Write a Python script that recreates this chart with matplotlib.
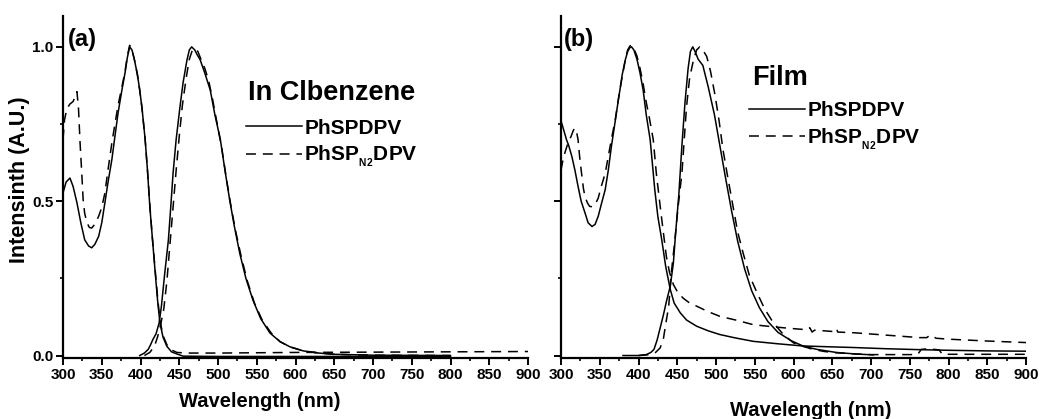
import matplotlib
matplotlib.use('Agg')
import matplotlib.pyplot as plt
from matplotlib.ticker import MultipleLocator, FormatStrFormatter

plt.rcParams['font.family'] = ['Liberation Sans', 'DejaVu Sans']
plt.rcParams['font.weight'] = 'bold'
plt.rcParams['mathtext.fontset'] = 'custom'
plt.rcParams['mathtext.bf'] = 'Liberation Sans:bold'
plt.rcParams['mathtext.rm'] = 'Liberation Sans:bold'

# ---------------- (a) In Clbenzene ----------------
a_abs1_x = [300, 304, 309, 313, 318, 323, 328, 333, 337, 341, 346, 350, 354, 358, 363, 367, 371, 376,
            380, 383, 386, 389, 392, 396, 399, 402, 406, 409, 412, 415, 419, 422, 425, 429, 434, 440,
            447, 455, 500, 600, 700, 800]
a_abs1_y = [0.527, 0.562, 0.575, 0.548, 0.495, 0.43, 0.375, 0.355, 0.349, 0.36, 0.386, 0.43, 0.494,
            0.56, 0.634, 0.71, 0.785, 0.86, 0.915, 0.965, 1.0, 0.99, 0.96, 0.91, 0.86, 0.80, 0.70,
            0.60, 0.483, 0.39, 0.268, 0.18, 0.107, 0.06, 0.03, 0.012, 0.005, -0.002, -0.003,
            -0.003, -0.003, -0.003]

a_abs2_x = [300, 302, 305, 309, 313, 316, 318, 320, 322, 324, 326, 328, 331, 334, 337, 341, 346, 350,
            354, 358, 363, 367, 371, 376, 380, 383, 386, 389, 392, 396, 399, 402, 406, 409, 412, 415,
            419, 422, 425, 429, 434, 440, 447, 460, 500, 600, 700, 800, 900]
a_abs2_y = [0.70, 0.764, 0.80, 0.815, 0.823, 0.84, 0.855, 0.80, 0.69, 0.60, 0.505, 0.46, 0.43, 0.415,
            0.413, 0.425, 0.451, 0.48, 0.526, 0.60, 0.688, 0.75, 0.81, 0.87, 0.92, 0.97, 1.005, 0.99,
            0.96, 0.91, 0.86, 0.80, 0.70, 0.60, 0.49, 0.39, 0.275, 0.19, 0.115, 0.065, 0.035, 0.018,
            0.01, 0.008, 0.008, 0.01, 0.011, 0.012, 0.013]

a_pl1_x = [399, 405, 410, 413, 416, 420, 424, 427, 431, 436, 439, 442, 446, 451, 455, 460, 463, 466,
           470, 473, 477, 483, 490, 496, 503, 509, 515, 521, 528, 536, 545, 555, 567, 580, 593, 610,
           630, 650, 700, 800]
a_pl1_y = [0.0, 0.008, 0.02, 0.035, 0.052, 0.07, 0.105, 0.16, 0.26, 0.375, 0.48, 0.59, 0.70, 0.807,
           0.885, 0.958, 0.99, 1.0, 0.99, 0.975, 0.958, 0.915, 0.86, 0.78, 0.70, 0.60, 0.505, 0.42,
           0.332, 0.25, 0.18, 0.12, 0.073, 0.045, 0.028, 0.015, 0.008, 0.004, 0.001, 0.0]

a_pl2_x = [405, 412, 418, 422, 426, 430, 434, 438, 442, 446, 450, 454, 459, 463, 467, 470, 474, 478,
           483, 488, 493, 499, 505, 511, 517, 523, 530, 538, 547, 557, 568, 580, 593, 610, 630, 650,
           700, 800]
a_pl2_y = [0.0, 0.01, 0.03, 0.06, 0.10, 0.15, 0.24, 0.36, 0.48, 0.60, 0.71, 0.81, 0.90, 0.96, 0.99,
           0.995, 0.985, 0.96, 0.93, 0.89, 0.83, 0.75, 0.67, 0.57, 0.48, 0.40, 0.32, 0.24, 0.17,
           0.115, 0.075, 0.045, 0.028, 0.015, 0.008, 0.004, 0.001, 0.0]

# ---------------- (b) Film ----------------
b_abs1_x = [300, 303, 307, 310, 314, 318, 322, 326, 331, 335, 340, 344, 348, 352, 357, 361, 365, 370,
            374, 376, 379, 383, 386, 389, 391, 394, 398, 402, 406, 410, 415, 418, 421, 425, 430, 435,
            441, 446, 454, 462, 475, 490, 505, 525, 548, 580, 612, 650, 677, 720, 763, 800, 850, 900]
b_abs1_y = [0.76, 0.735, 0.70, 0.68, 0.645, 0.60, 0.548, 0.50, 0.462, 0.43, 0.418, 0.425, 0.451, 0.49,
            0.537, 0.60, 0.677, 0.76, 0.828, 0.86, 0.91, 0.958, 0.985, 0.998, 1.0, 0.99, 0.96, 0.915,
            0.86, 0.78, 0.70, 0.62, 0.537, 0.45, 0.375, 0.29, 0.214, 0.17, 0.138, 0.115, 0.095, 0.08,
            0.068, 0.057, 0.046, 0.038, 0.031, 0.028, 0.026, 0.022, 0.019, 0.017, 0.015, 0.014]

b_abs2_x = [300, 303, 306, 309, 313, 316, 318, 320, 322, 324, 327, 329, 331, 334, 337, 341, 344, 348,
            352, 357, 361, 365, 370, 374, 378, 383, 386, 389, 391, 394, 398, 402, 406, 410, 414, 419,
            423, 428, 432, 436, 440, 445, 451, 458, 465, 475, 490, 505, 527, 548, 570, 591, 610, 618,
            621, 624, 627, 640, 655, 656, 657, 677, 720, 763, 772, 776, 780, 784, 800, 850, 900]
b_abs2_y = [0.60, 0.64, 0.665, 0.688, 0.71, 0.73, 0.737, 0.725, 0.70, 0.645, 0.58, 0.54, 0.515, 0.495,
            0.483, 0.482, 0.489, 0.51, 0.548, 0.59, 0.645, 0.70, 0.764, 0.83, 0.89, 0.958, 0.99, 1.003,
            1.005, 0.995, 0.97, 0.93, 0.88, 0.82, 0.77, 0.70, 0.59, 0.483, 0.40, 0.32, 0.27, 0.23,
            0.203, 0.185, 0.172, 0.16, 0.142, 0.127, 0.114, 0.10, 0.094, 0.089, 0.085, 0.084, 0.09,
            0.076, 0.082, 0.080, 0.077, 0.085, 0.076, 0.074, 0.066, 0.058, 0.058, 0.066, 0.062,
            0.056, 0.053, 0.047, 0.042]

b_pl1_x = [380, 400, 410, 416, 420, 424, 428, 432, 436, 441, 445, 448, 452, 456, 460, 464, 467, 470,
           473, 477, 483, 490, 498, 505, 512, 520, 528, 537, 546, 556, 567, 580, 597, 613, 630, 655,
           680, 703]
b_pl1_y = [0.0, 0.0, 0.003, 0.01, 0.02, 0.05, 0.09, 0.13, 0.175, 0.225, 0.30, 0.40, 0.52, 0.68, 0.82,
           0.93, 0.985, 1.0, 0.985, 0.96, 0.94, 0.87, 0.78, 0.68, 0.58, 0.47, 0.37, 0.28, 0.21, 0.155,
           0.11, 0.075, 0.048, 0.03, 0.02, 0.01, 0.005, 0.002]

b_pl2_x = [400, 415, 422, 428, 432, 435, 439, 442, 447, 451, 456, 459, 462, 466, 471, 475, 479, 483,
           488, 493, 499, 504, 509, 515, 522, 528, 535, 543, 553, 563, 574, 587, 600, 612, 625, 640,
           655, 680, 700, 760, 765, 775, 788, 792, 900]
b_pl2_y = [0.0, 0.003, 0.01, 0.025, 0.052, 0.10, 0.16, 0.26, 0.375, 0.48, 0.59, 0.70, 0.807, 0.90,
           0.958, 0.99, 1.0, 0.99, 0.969, 0.92, 0.84, 0.76, 0.667, 0.58, 0.483, 0.40, 0.332, 0.26,
           0.203, 0.15, 0.106, 0.068, 0.041, 0.03, 0.02, 0.013, 0.009, 0.005, 0.003, 0.003, 0.02,
           0.022, 0.018, 0.004, 0.004]

LABEL1 = 'PhSPDPV'
LABEL2 = r'PhSP$_{_{\mathbf{N2}}}$DPV'

SOLID = dict(color='black', lw=1.1, ls='-')
DASH = dict(color='black', lw=1.1, ls=(0, (6.5, 4.5)))


def style_axes(ax, show_ylabels):
    ax.set_xlim(300, 900)
    ax.set_ylim(-0.008, 1.1)
    ax.spines['top'].set_visible(False)
    ax.spines['right'].set_visible(False)
    for s in ('left', 'bottom'):
        ax.spines[s].set_linewidth(1.6)
    ax.xaxis.set_major_locator(MultipleLocator(50))
    ax.xaxis.set_minor_locator(MultipleLocator(25))
    ax.yaxis.set_major_locator(MultipleLocator(0.5))
    ax.yaxis.set_minor_locator(MultipleLocator(0.25))
    ax.yaxis.set_major_formatter(FormatStrFormatter('%.1f'))
    ax.tick_params(which='major', direction='out', length=5, width=1.4, labelsize=11, pad=2)
    ax.tick_params(which='minor', direction='out', length=2.5, width=1.2)
    if not show_ylabels:
        ax.tick_params(axis='y', labelleft=False)


def add_legend(ax, handles, anchor):
    ax.legend(handles=handles, loc='upper left', bbox_to_anchor=anchor, frameon=False,
              prop={'weight': 'bold', 'size': 15}, handlelength=2.7, handletextpad=0.1,
              labelspacing=0.3, borderpad=0, borderaxespad=0)


fig = plt.figure(figsize=(10.4, 4.19), dpi=100)
ax1 = fig.add_axes([63 / 1040, 1 - 358 / 419, 465 / 1040, 342 / 419])
ax2 = fig.add_axes([561 / 1040, 1 - 358 / 419, 465 / 1040, 342 / 419])

# panel a
l1, = ax1.plot(a_abs1_x, a_abs1_y, label=LABEL1, **SOLID)
l2, = ax1.plot(a_abs2_x, a_abs2_y, label=LABEL2, **DASH)
ax1.plot(a_pl1_x, a_pl1_y, **SOLID)
ax1.plot(a_pl2_x, a_pl2_y, **DASH)
style_axes(ax1, True)
ax1.set_xlabel('Wavelength (nm)', fontsize=14.5, fontweight='bold')
ax1.xaxis.set_label_coords(0.424, -0.098)
ax1.set_ylabel('Intensinth (A.U.)', fontsize=15.5, fontweight='bold')
ax1.yaxis.set_label_coords(-0.07, 0.52)
ax1.text(0.01, 0.965, '(a)', transform=ax1.transAxes, fontsize=17, fontweight='bold', va='top')
ax1.text(0.398, 0.754, 'In Clbenzene', transform=ax1.transAxes, fontsize=19.5, fontweight='bold',
         va='baseline')
add_legend(ax1, [l1, l2], (0.3935, 0.70))

# panel b
m1, = ax2.plot(b_abs1_x, b_abs1_y, label=LABEL1, **SOLID)
m2, = ax2.plot(b_abs2_x, b_abs2_y, label=LABEL2, **DASH)
ax2.plot(b_pl1_x, b_pl1_y, **SOLID)
ax2.plot(b_pl2_x, b_pl2_y, **DASH)
style_axes(ax2, False)
ax2.set_xlabel('Wavelength (nm)', fontsize=14.5, fontweight='bold')
ax2.xaxis.set_label_coords(0.538, -0.126)
ax2.text(0.006, 0.965, '(b)', transform=ax2.transAxes, fontsize=17, fontweight='bold', va='top')
ax2.text(0.411, 0.798, 'Film', transform=ax2.transAxes, fontsize=19.5, fontweight='bold',
         va='baseline')
add_legend(ax2, [m1, m2], (0.404, 0.75))

plt.savefig('out.png', dpi=100)
plt.close(fig)
